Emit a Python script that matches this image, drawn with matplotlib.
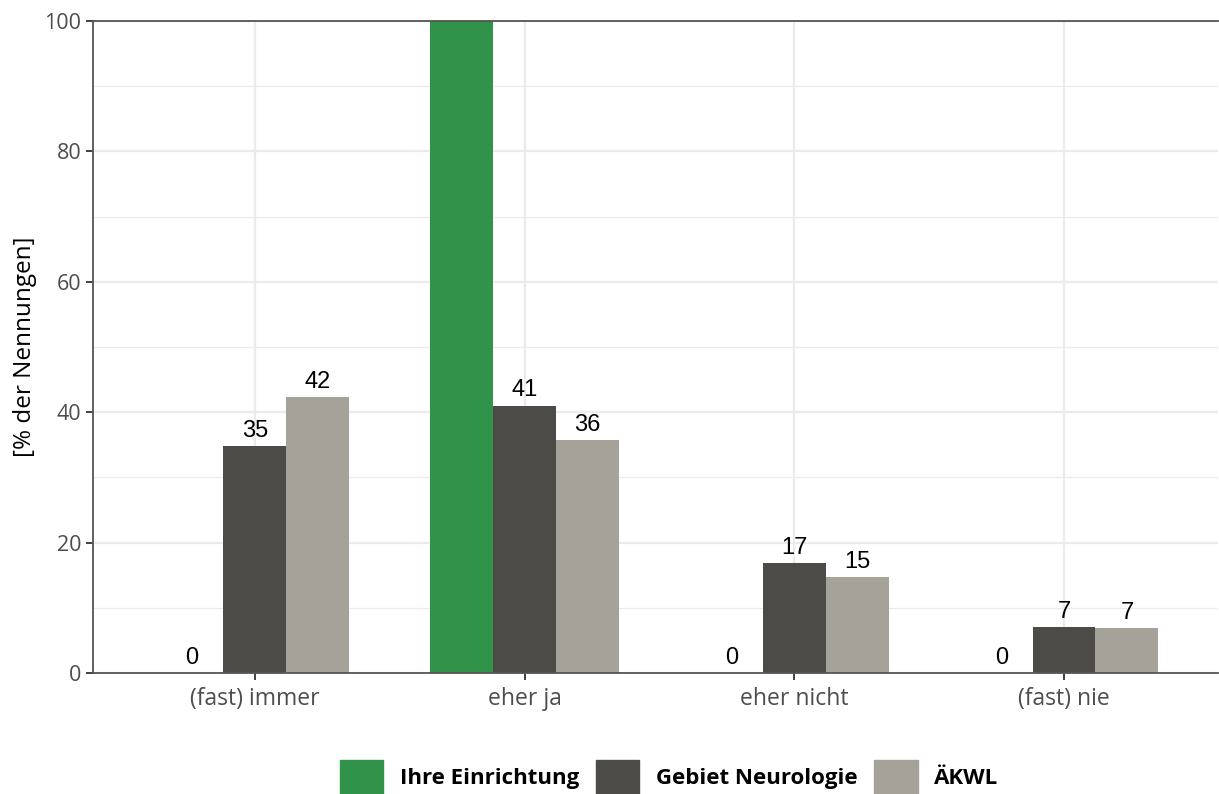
import numpy as np
import matplotlib.pyplot as plt
from matplotlib.patches import Patch

categories = ["(fast) immer", "eher ja", "eher nicht", "(fast) nie"]
series = ["Ihre Einrichtung", "Gebiet Neurologie", "ÄKWL"]
einrichtung = [0, 100, 0, 0]
neurologie = [34.8, 41.0, 16.8, 7.1]
aekwl = [42.3, 35.7, 14.7, 6.9]
colors = ["#31924a", "#4d4b47", "#a5a29a"]

plt.rcParams['font.family'] = ['Open Sans', 'DejaVu Sans']

fig = plt.figure(figsize=(12.19, 7.94), dpi=100)
ax = fig.add_axes([0.0763, 0.1524, 0.9227, 0.8212])

x = np.arange(len(categories))
w = 0.233
ymax = 100
for i, vals in enumerate([einrichtung, neurologie, aekwl]):
    pos = x + (i - 1) * w
    ax.bar(pos, vals, width=w, color=colors[i], zorder=2)
    for px, v in zip(pos, vals):
        # label above the top of the panel is cut away in the original
        if v >= ymax:
            continue
        ax.annotate(f"{v:.0f}", (px, v), xytext=(0, 3), textcoords='offset points',
                    ha='center', va='bottom', fontsize=17, family='Liberation Sans',
                    color='black')

ax.set_xlim(-0.6, 3.57)
ax.set_ylim(0, ymax)
ax.set_xticks(x)
ax.set_xticklabels(categories)
ax.set_yticks(np.arange(0, 101, 20))
ax.set_yticks(np.arange(10, 100, 20), minor=True)
ax.tick_params(axis='both', colors='#333333', labelcolor='#4d4d4d',
               length=5, width=1.3)
ax.tick_params(axis='y', labelsize=15.5)
ax.tick_params(axis='x', labelsize=16.5, pad=5)
ax.tick_params(axis='y', which='minor', length=0)
ax.grid(True, which='major', color='#ebebeb', linewidth=1.6, zorder=0)
ax.grid(True, which='minor', axis='y', color='#ebebeb', linewidth=0.9, zorder=0)
ax.set_axisbelow(True)
for s in ['left', 'bottom', 'top']:
    ax.spines[s].set_color('#555555')
    ax.spines[s].set_linewidth(1.3)
ax.spines['right'].set_visible(False)
ax.set_ylabel("[% der Nennungen]", fontsize=17.5, color='black', labelpad=5)

handles = [Patch(color=c) for c in colors]
fig.legend(handles, series, loc='lower center', bbox_to_anchor=(0.549, -0.025),
           ncol=3, frameon=False, prop={'weight': 'bold', 'size': 16},
           handlelength=1.95, handleheight=1.95, handletextpad=0.75, columnspacing=0.75)

fig.savefig("out.png", dpi=100)
